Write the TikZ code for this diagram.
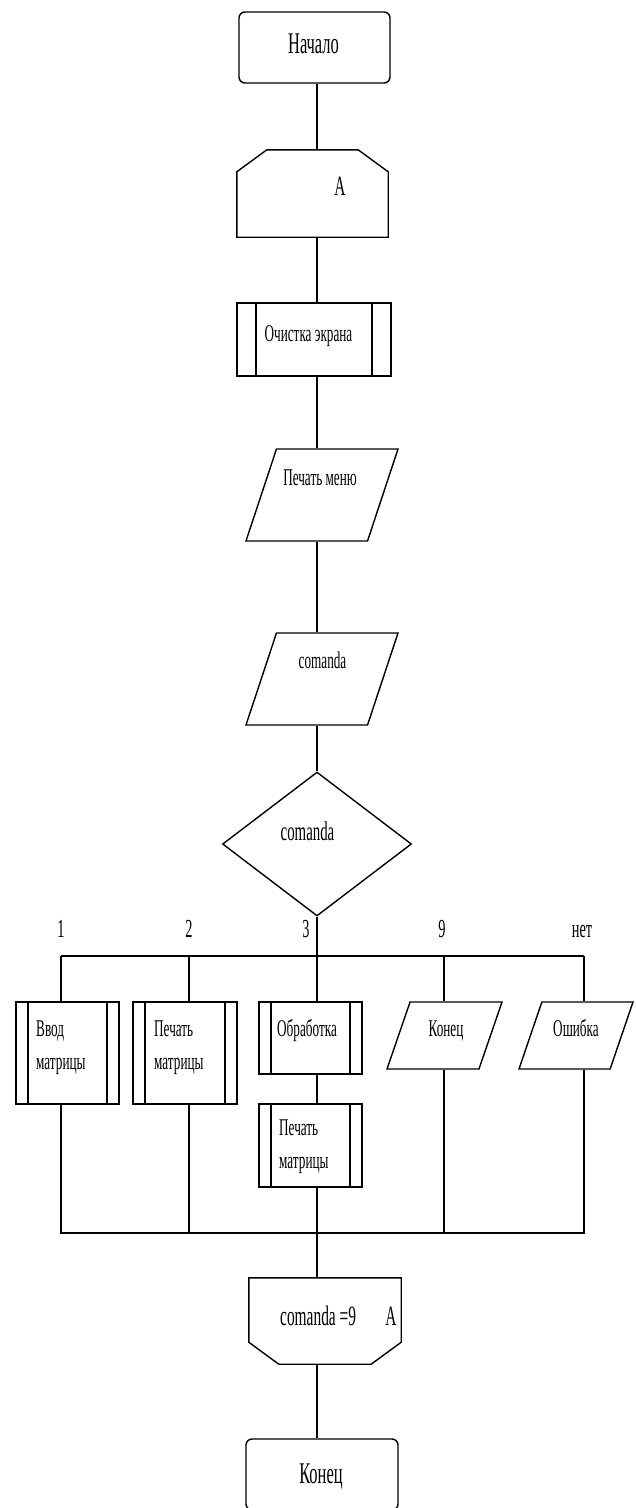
\documentclass[tikz,border=0pt]{standalone}
\usepackage{fontspec}
\setmainfont{Liberation Serif}[FakeStretch=0.55]
\usetikzlibrary{shapes.geometric}

\tikzset{
  wire/.style={line width=1.2pt},
  outline/.style={line width=1.4pt},
  term/.style={draw, outline, rounded corners=6pt, minimum width=151pt, minimum height=71pt, inner sep=0pt},
  loopbox/.style={rectangle, minimum width=151pt, minimum height=87pt, inner sep=0pt},
  subbox/.style={draw, outline, rectangle, inner sep=0pt,
    path picture={\draw[line width=1.2pt] ([xshift=#1]path picture bounding box.north west) -- ([xshift=#1]path picture bounding box.south west)
      ([xshift=-#1]path picture bounding box.north east) -- ([xshift=-#1]path picture bounding box.south east);}},
  subbox/.default=12pt,
  iobox/.style={draw, outline, trapezium, trapezium left angle=71.5, trapezium right angle=108.5, trapezium stretches=true, inner sep=1pt},
  choice/.style={draw, outline, diamond, inner sep=1pt, minimum width=189pt, minimum height=144pt},
  lbl/.style={inner sep=0pt, font=\fontsize{#1}{33}\selectfont},
  lbl/.default=24
}

\begin{document}
\begin{tikzpicture}[x=1pt,y=-1pt]
  \useasboundingbox (0,0) rectangle (635,1508);

  % main axis and the two buses
  \coordinate (axis) at (317,0);
  \coordinate (busL) at (61,956);
  \coordinate (b2) at (189,956);
  \coordinate (b3) at (317,956);
  \coordinate (b4) at (444,956);
  \coordinate (busR) at (584,956);
  \coordinate (joinL) at (61,1233);
  \coordinate (joinR) at (584,1233);

  % blocks
  \node[term] (start) at (314.5,47.5) {};
  \node[loopbox] (loopA) at (312.5,193.5) {};
  \draw[outline] (loopA.south west) -- ([yshift=-22pt]loopA.north west) -- ([xshift=30pt]loopA.north west)
    -- ([xshift=-30pt]loopA.north east) -- ([yshift=-22pt]loopA.north east) -- (loopA.south east) -- cycle;
  \node[subbox=19pt, minimum width=154pt, minimum height=73pt] (clear) at (314,339.5) {};
  \node[iobox, minimum width=152pt, minimum height=92pt] (menu) at (322,495) {};
  \node[iobox, minimum width=152pt, minimum height=92pt] (input) at (322,679) {};
  \node[choice] (sel) at (317,844) {};
  \node[subbox, minimum width=103pt, minimum height=102pt] (inMat) at (67.5,1053) {};
  \node[subbox, minimum width=104pt, minimum height=102pt] (prMat) at (185,1053) {};
  \node[subbox, minimum width=103pt, minimum height=72pt] (proc) at (310.5,1038) {};
  \node[subbox, minimum width=103pt, minimum height=83pt] (prRes) at (310.5,1145.5) {};
  \node[iobox, minimum width=115pt, minimum height=67pt] (quit) at (444.5,1035.5) {};
  \node[iobox, minimum width=114pt, minimum height=67pt] (err) at (576,1035.5) {};
  \node[loopbox, minimum width=152pt, minimum height=86pt] (loopB) at (325,1321) {};
  \draw[outline] (loopB.north west) -- ([yshift=22pt]loopB.south west) -- ([xshift=30pt]loopB.south west)
    -- ([xshift=-30pt]loopB.south east) -- ([yshift=22pt]loopB.south east) -- (loopB.north east) -- cycle;
  \node[term, minimum width=152pt] (stop) at (322,1474.5) {};

  % texts
  \node[lbl=30, anchor=base] (tStart) at (313.5,53) {Начало};
  \node[lbl=28, anchor=base] (tLoopA) at (340,195) {A};
  \node[lbl, anchor=base] (tClear) at (308.5,341) {Очистка экрана};
  \node[lbl, anchor=base] (tMenu) at (320,485) {Печать меню};
  \node[lbl, anchor=base] (tInput) at (322.5,668) {comanda};
  \node[lbl=27, anchor=base] (tSel) at (307.5,840) {comanda};
  \node[lbl=26, anchor=base] (c1) at (61,937) {1};
  \node[lbl=26, anchor=base] (c2) at (189,937) {2};
  \node[lbl=26, anchor=base] (c3) at (306,937) {3};
  \node[lbl=26, anchor=base] (c9) at (442,937) {9};
  \node[lbl=26, anchor=base] (cNo) at (582,937) {нет};
  \node[lbl, align=left, anchor=base west] (tIn) at (36,1069) {Ввод\\матрицы};
  \node[lbl, align=left, anchor=base west] (tPr) at (154,1069) {Печать\\матрицы};
  \node[lbl, anchor=base west] (tProc) at (277,1036) {Обработка};
  \node[lbl, align=left, anchor=base west] (tRes) at (279,1168) {Печать\\матрицы};
  \node[lbl, anchor=base] (tQuit) at (446,1036) {Конец};
  \node[lbl, anchor=base] (tErr) at (576,1036) {Ошибка};
  \node[lbl=28, anchor=base west] (tLoopB) at (280,1325) {comanda =9};
  \node[lbl=28, anchor=base] (tLoopBA) at (391,1325) {A};
  \node[lbl=30, anchor=base] (tStop) at (321,1483) {Конец};

  % connectors
  \draw[wire] (start.south -| axis) -- (loopA.north -| axis);
  \draw[wire] (loopA.south -| axis) -- (clear.north -| axis);
  \draw[wire] (clear.south -| axis) -- (menu.north -| axis);
  \draw[wire] (menu.south -| axis) -- (input.north -| axis);
  \draw[wire] (input.south -| axis) -- (sel.north);
  \draw[wire] (sel.south) -- (b3);
  \draw[wire] (busL) -- (busR);
  \draw[wire] (busL) -- (inMat.north -| busL);
  \draw[wire] (b2) -- (prMat.north -| b2);
  \draw[wire] (b3) -- (proc.north -| b3);
  \draw[wire] (proc.south -| b3) -- (prRes.north -| b3);
  \draw[wire] (b4) -- (quit.north -| b4);
  \draw[wire] (busR) -- (err.north -| busR);
  \draw[wire] (inMat.south -| joinL) -- (joinL) -- (joinR) -- (err.south -| joinR);
  \draw[wire] (prMat.south -| b2) -- (b2 |- joinL);
  \draw[wire] (prRes.south -| b3) -- (b3 |- joinL);
  \draw[wire] (quit.south -| b4) -- (b4 |- joinL);
  \draw[wire] (b3 |- joinL) -- (loopB.north -| axis);
  \draw[wire] (loopB.south -| axis) -- (stop.north -| axis);
\end{tikzpicture}
\end{document}
